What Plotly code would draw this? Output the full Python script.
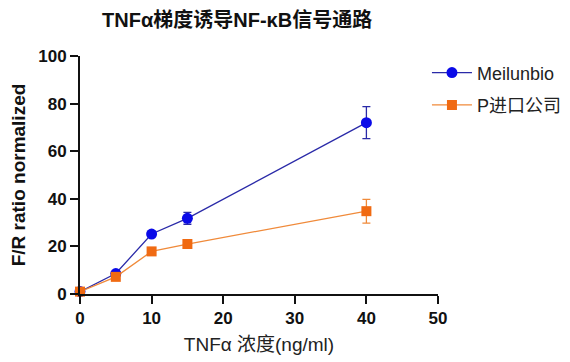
import plotly.graph_objects as go

conc = [0, 5, 10, 15, 40]
meilun = [1.0, 8.6, 25.2, 31.8, 72.0]
meilun_err = [0.5, 0.8, 1.0, 2.5, 6.7]
pimport = [1.0, 7.2, 17.9, 21.0, 34.8]
pimport_err = [0.4, 0.6, 0.8, 0.8, 5.0]
xticks = [0, 10, 20, 30, 40, 50]
yticks = [0, 20, 40, 60, 80, 100]

fig = go.Figure()
fig.add_trace(go.Scatter(
    x=conc, y=meilun, name="Meilunbio", mode="lines+markers", legendgroup="a",
    line=dict(color="#2a2aa8", width=1.3),
    marker=dict(symbol="circle", size=11, color="#0a0ae8"),
    error_y=dict(type="data", array=meilun_err, color="#2a2aa8", thickness=1.3, width=4),
    cliponaxis=False,
))
fig.add_trace(go.Scatter(
    x=conc, y=pimport, name="P进口公司", mode="lines+markers", legendgroup="b",
    line=dict(color="#f08a3a", width=1.3),
    marker=dict(symbol="square", size=10, color="#f06a12"),
    error_y=dict(type="data", array=pimport_err, color="#f08a3a", thickness=1.3, width=4),
    cliponaxis=False,
))

axis_font = dict(family="Liberation Sans, Arial", size=17, color="#111")
fig.update_layout(
    width=570, height=362,
    margin=dict(l=72, r=140, t=48, b=76, autoexpand=False),
    paper_bgcolor="white", plot_bgcolor="white",
    title=dict(text="<b>TNFα梯度诱导NF-κB信号通路</b>", x=0.402, xanchor="center",
               y=0.966, yanchor="middle",
               font=dict(family="Liberation Sans, Noto Sans CJK SC", size=20, color="#111")),
    showlegend=True,
    legend=dict(xref="container", yref="container", x=0.735, y=0.872, xanchor="left", yanchor="top",
                bgcolor="rgba(0,0,0,0)", traceorder="grouped", tracegroupgap=6,
                font=dict(family="Liberation Sans, Noto Sans CJK SC", size=18, color="#222"),
                itemwidth=40),
    xaxis=dict(range=[0, 50], tickvals=xticks, ticktext=[f"<b>{v}</b>" for v in xticks],
               showgrid=False, zeroline=False, showline=True, linecolor="#111", linewidth=2,
               ticks="outside", ticklen=8, tickwidth=2, tickcolor="#111", tickfont=axis_font,
               automargin=False,
               title=dict(text="TNFα 浓度(ng/ml)", standoff=10,
                          font=dict(family="Liberation Sans, Noto Sans CJK SC", size=19, color="#222"))),
    yaxis=dict(range=[0, 100], tickvals=yticks, ticktext=[f"<b>{v}</b>" for v in yticks],
               showgrid=False, zeroline=False, showline=True, linecolor="#111", linewidth=2,
               ticks="outside", ticklen=8, tickwidth=2, tickcolor="#111", tickfont=axis_font,
               automargin=False,
               title=dict(text="<b>F/R ratio normalized</b>", standoff=8,
                          font=dict(family="Liberation Sans, Arial", size=19, color="#111"))),
)
fig.write_html("out.html")
